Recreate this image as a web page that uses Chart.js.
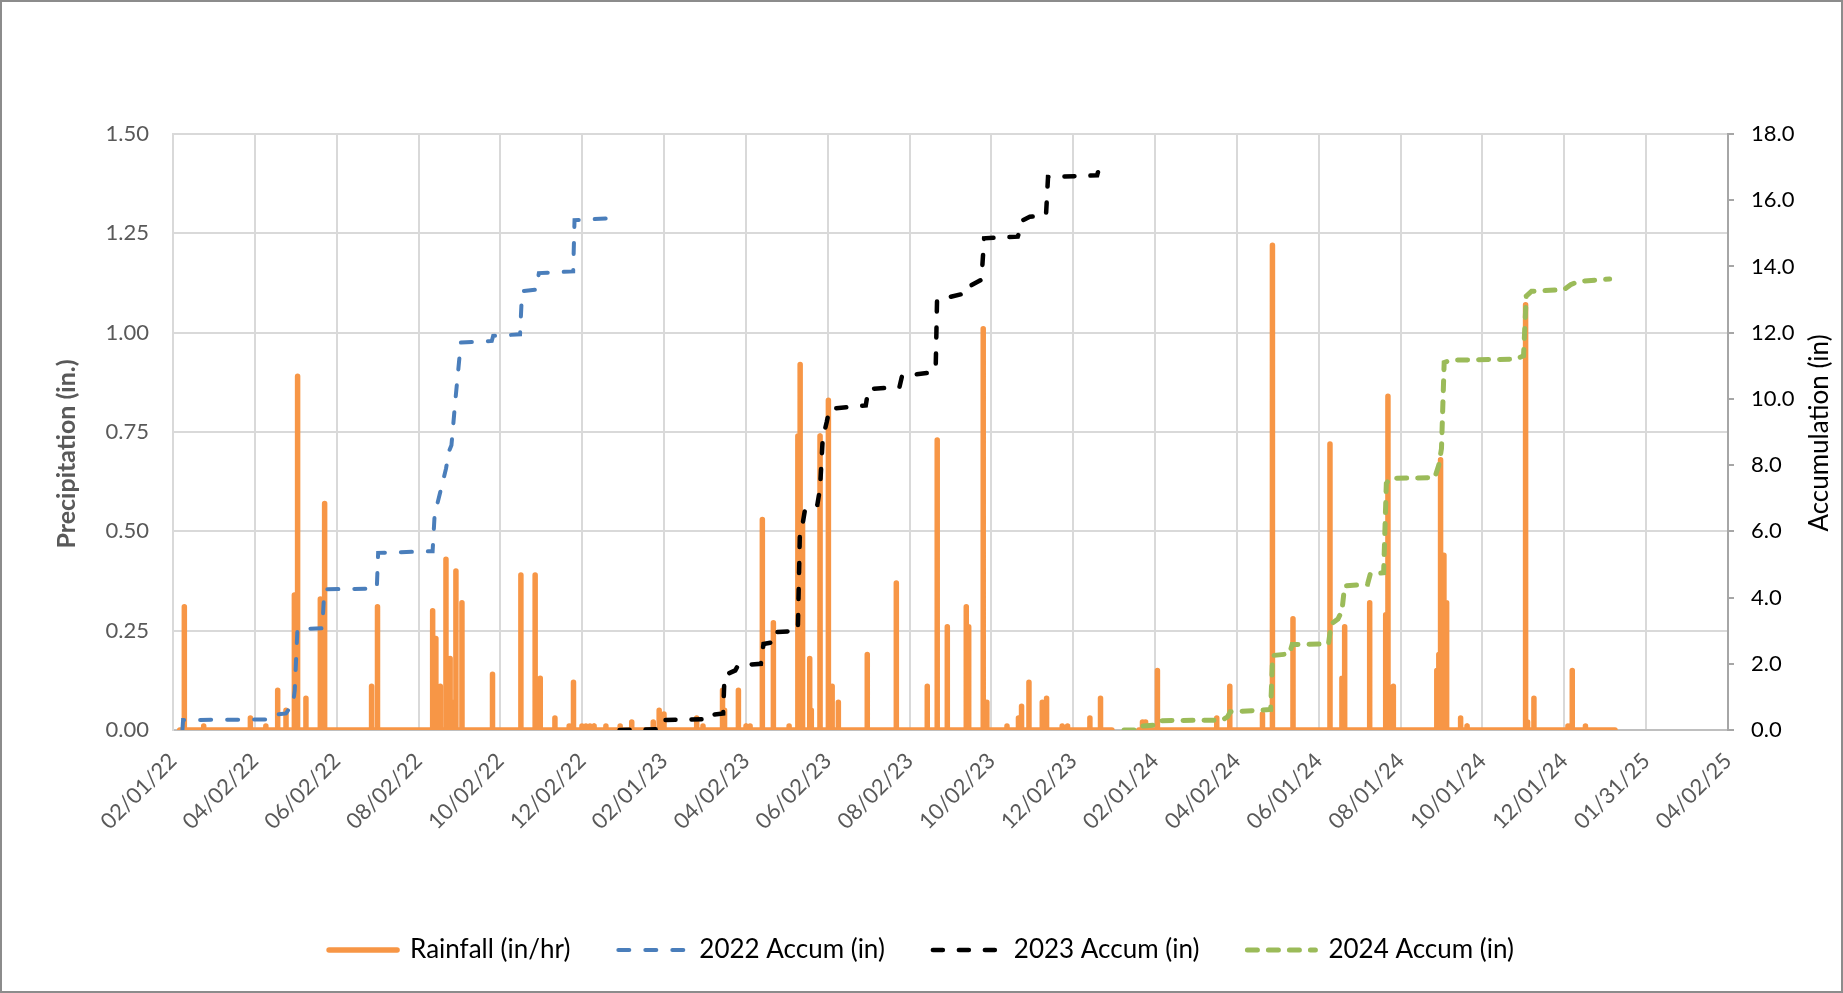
<!DOCTYPE html>
<html>
<head>
<meta charset="utf-8">
<script src="https://cdn.jsdelivr.net/npm/chart.js@4.4.1/dist/chart.umd.min.js"></script>
<style>
  html, body { margin: 0; padding: 0; background: #fff; }
  #wrap { width: 1843px; height: 993px; }
</style>
</head>
<body>
<div id="wrap"><canvas id="rain" width="1843" height="993"></canvas></div>
<script>
// x values are days counted from 02/01/22
const tickLabels = ['02/01/22', '04/02/22', '06/02/22', '08/02/22', '10/02/22', '12/02/22',
  '02/01/23', '04/02/23', '06/02/23', '08/02/23', '10/02/23', '12/02/23',
  '02/01/24', '04/02/24', '06/01/24', '08/01/24', '10/01/24', '12/01/24',
  '01/31/25', '04/02/25'];
const axisDays = 1156;

// rain gauge was logging over these periods (zero between the spikes)
const rainPeriodStart = [5, 718];
const rainPeriodEnd = [698, 1072];

const rainDays = [8.4, 22.8, 57.5, 69, 77.8, 84, 90.2, 92.6, 98.8, 109.5, 112.7, 147.6, 152,
  193, 195.4, 198.7, 202.9, 206, 208, 210.3, 214.8, 237.5, 258.6, 269.2, 273, 283.9, 294.5,
  297.7, 304, 307, 310, 313, 321.8, 332.4, 341, 357, 361.4, 365, 389.3, 394, 408.5, 410,
  420.3, 426, 429, 438.1, 446.3, 458, 464.5, 466.2, 468, 473.3, 474.5, 481, 487.2, 490,
  494.6, 516.1, 537.7, 560.7, 568.1, 575.6, 589.7, 591.5, 602.3, 605, 620, 628.5, 630.8,
  636.3, 646.2, 649.4, 661, 665, 681.6, 689.5,
  720.7, 723, 731.8, 775.9, 785.6, 809.9, 817.3, 832.6, 860.1, 869, 871, 889.6, 901.5,
  903.2, 907.2, 939.5, 941, 942.3, 944.8, 946.8, 957.2, 962, 1005.5, 1007, 1011.7, 1037,
  1040.2, 1050];
const rainInches = [0.31, 0.01, 0.03, 0.01, 0.10, 0.05, 0.34, 0.89, 0.08, 0.33, 0.57, 0.11, 0.31,
  0.30, 0.23, 0.11, 0.43, 0.18, 0.07, 0.40, 0.32, 0.14, 0.39, 0.39, 0.13, 0.03, 0.01,
  0.12, 0.01, 0.01, 0.01, 0.01, 0.01, 0.01, 0.02, 0.02, 0.05, 0.04, 0.03, 0.01, 0.10, 0.05,
  0.10, 0.01, 0.01, 0.53, 0.27, 0.01, 0.74, 0.92, 0.52, 0.18, 0.05, 0.74, 0.83, 0.11,
  0.07, 0.19, 0.37, 0.11, 0.73, 0.26, 0.31, 0.26, 1.01, 0.07, 0.01, 0.03, 0.06,
  0.12, 0.07, 0.08, 0.01, 0.01, 0.03, 0.08,
  0.02, 0.02, 0.15, 0.03, 0.11, 0.04, 1.22, 0.28, 0.72, 0.13, 0.26, 0.32, 0.29,
  0.84, 0.11, 0.15, 0.19, 0.68, 0.44, 0.32, 0.03, 0.01, 1.07, 0.02, 0.08, 0.01,
  0.15, 0.01];

const accum2022Days = [7, 7.5, 72, 74, 84, 86, 89, 90.5, 92.5, 111, 112.5, 151.5, 152.5, 193,
  194.5, 203, 205, 207, 210, 214, 237, 238, 258, 259.5, 270, 272, 297.5, 298.5, 323];
const accum2022 = [0, 0.3, 0.32, 0.45, 0.5, 0.62, 0.7, 1.2, 3.05, 3.07, 4.25, 4.27, 5.35, 5.4,
  6.5, 7.9, 8.4, 8.6, 10.0, 11.7, 11.75, 11.9, 11.95, 13.25, 13.3, 13.8, 13.85, 15.4, 15.45];

const accum2023Days = [332, 360, 363, 397, 398, 409, 410, 418, 420, 437, 439, 446, 447, 464.5,
  466, 468, 470, 479, 481, 483, 486, 488, 515, 517, 540, 542, 565, 567, 568, 575, 590, 592,
  601, 603, 628, 632, 637, 649, 650.5, 687, 689, 694];
const accum2023 = [0, 0.02, 0.3, 0.33, 0.45, 0.5, 1.65, 1.8, 1.95, 2.0, 2.6, 2.65, 2.95, 3.0,
  5.9, 6.2, 6.7, 6.8, 7.3, 8.8, 9.3, 9.7, 9.8, 10.3, 10.35, 10.7, 10.8, 10.95, 13.0, 13.05,
  13.2, 13.4, 13.6, 14.85, 14.9, 15.4, 15.5, 15.55, 16.7, 16.75, 17.05, 17.15];

const accum2024Days = [707, 718, 720, 730, 733, 780, 784, 786, 810, 816, 817.5, 830, 832, 859,
  861, 866, 869, 871, 888, 890, 900, 902, 905, 938, 941, 943, 945, 950, 998, 1004, 1006,
  1010, 1034, 1039, 1045, 1068];
const accum2024 = [0, 0, 0.12, 0.15, 0.28, 0.3, 0.4, 0.55, 0.6, 0.62, 2.25, 2.3, 2.58, 2.6,
  3.2, 3.35, 3.6, 4.35, 4.4, 4.7, 4.75, 7.45, 7.6, 7.62, 8.0, 8.5, 11.1, 11.17, 11.2, 11.3,
  13.1, 13.25, 13.3, 13.45, 13.55, 13.62];

function rainPoints() {
  const pts = [];
  rainPeriodStart.forEach((start, p) => {
    const end = rainPeriodEnd[p];
    pts.push({x: start, y: 0});
    rainDays.forEach((d, i) => {
      if (d < start || d > end) return;
      pts.push({x: d - 0.05, y: 0}, {x: d, y: rainInches[i]}, {x: d + 0.05, y: 0});
    });
    pts.push({x: end, y: 0});
    pts.push({x: end + 1, y: null});
  });
  return pts;
}

function zip(days, vals) {
  return days.map((d, i) => ({x: d, y: vals[i]}));
}

const titles = {
  id: 'axisTitles',
  afterDraw(chart) {
    const c = chart.ctx;
    c.save();
    c.textAlign = 'center';
    c.textBaseline = 'middle';
    c.translate(67, 454);
    c.rotate(-Math.PI / 2);
    c.font = 'bold 25px Lato';
    c.fillStyle = '#595959';
    c.fillText('Precipitation (in.)', 0, 0);
    c.restore();

    c.save();
    c.textAlign = 'center';
    c.textBaseline = 'middle';
    c.translate(1820, 433);
    c.rotate(-Math.PI / 2);
    c.font = '26px Lato';
    c.fillStyle = '#000';
    c.fillText('Accumulation (in)', 0, 0);
    c.restore();

    c.save();
    c.strokeStyle = '#8c8c8c';
    c.lineWidth = 2;
    c.strokeRect(1, 1, chart.width - 2, chart.height - 2);
    c.restore();
  }
};

Chart.defaults.font.family = 'Lato';
Chart.defaults.font.size = 22;

new Chart(document.getElementById('rain'), {
  type: 'line',
  data: {
    datasets: [{
      label: 'Rainfall (in/hr)',
      data: rainPoints(),
      borderColor: '#f79646',
      backgroundColor: '#f79646',
      borderWidth: 5.5,
      borderJoinStyle: 'round',
      borderCapStyle: 'round',
      pointRadius: 0,
      yAxisID: 'y',
      order: 1
    }, {
      label: '2022 Accum (in)',
      data: zip(accum2022Days, accum2022),
      borderColor: '#4a7ebb',
      backgroundColor: '#4a7ebb',
      borderWidth: 4,
      borderDash: [11, 16],
      borderCapStyle: 'round',
      pointRadius: 0,
      yAxisID: 'y1',
      order: 0
    }, {
      label: '2023 Accum (in)',
      data: zip(accum2023Days, accum2023),
      borderColor: '#000000',
      backgroundColor: '#000000',
      borderWidth: 4.5,
      borderDash: [10, 16],
      borderCapStyle: 'round',
      pointRadius: 0,
      yAxisID: 'y1',
      order: 0
    }, {
      label: '2024 Accum (in)',
      data: zip(accum2024Days, accum2024),
      borderColor: '#9bbb59',
      backgroundColor: '#9bbb59',
      borderWidth: 5,
      borderDash: [10, 11],
      borderCapStyle: 'round',
      pointRadius: 0,
      yAxisID: 'y1',
      order: 0
    }]
  },
  options: {
    responsive: false,
    animation: false,
    devicePixelRatio: 1,
    layout: {
      padding: {top: 134, left: 0, right: 0, bottom: 20}
    },
    scales: {
      x: {
        type: 'linear',
        min: 0,
        max: axisDays,
        afterBuildTicks: (scale) => {
          scale.ticks = tickLabels.map((t, i) => ({value: i * axisDays / (tickLabels.length - 1)}));
        },
        afterFit: (scale) => { scale.height = 159; },
        ticks: {
          autoSkip: false,
          minRotation: 45,
          maxRotation: 45,
          padding: 18,
          color: '#595959',
          callback: (v, i) => tickLabels[i]
        },
        grid: {
          color: '#d9d9d9',
          lineWidth: 2,
          drawTicks: false
        },
        border: {
          color: '#bfbfbf',
          width: 2
        }
      },
      y: {
        position: 'left',
        min: 0,
        max: 1.5,
        afterFit: (scale) => { scale.width = 173; },
        ticks: {
          stepSize: 0.25,
          padding: 24,
          color: '#595959',
          callback: (v) => v.toFixed(2)
        },
        grid: {
          color: '#d9d9d9',
          lineWidth: 2,
          drawTicks: false
        },
        border: {
          color: '#d9d9d9',
          width: 2
        }
      },
      y1: {
        position: 'right',
        min: 0,
        max: 18,
        afterFit: (scale) => { scale.width = 115; },
        ticks: {
          stepSize: 2,
          padding: 17,
          color: '#000000',
          callback: (v) => v.toFixed(1)
        },
        grid: {
          drawOnChartArea: false,
          drawTicks: true,
          tickLength: 6,
          color: '#a6a6a6',
          lineWidth: 2
        },
        border: {
          color: '#a6a6a6',
          width: 2
        }
      }
    },
    plugins: {
      legend: {
        position: 'bottom',
        labels: {
          usePointStyle: true,
          pointStyleWidth: 68,
          padding: 48,
          color: '#000000',
          font: {size: 26},
          generateLabels: (chart) => chart.data.datasets.map((ds, i) => ({
            text: ds.label,
            datasetIndex: i,
            strokeStyle: ds.borderColor,
            fillStyle: ds.borderColor,
            fontColor: '#000000',
            lineWidth: ds.borderWidth,
            lineDash: ds.borderDash || [],
            lineCap: 'round',
            pointStyle: 'line',
            hidden: false
          }))
        }
      },
      tooltip: {
        enabled: false
      }
    }
  },
  plugins: [titles]
});
</script>
</body>
</html>
